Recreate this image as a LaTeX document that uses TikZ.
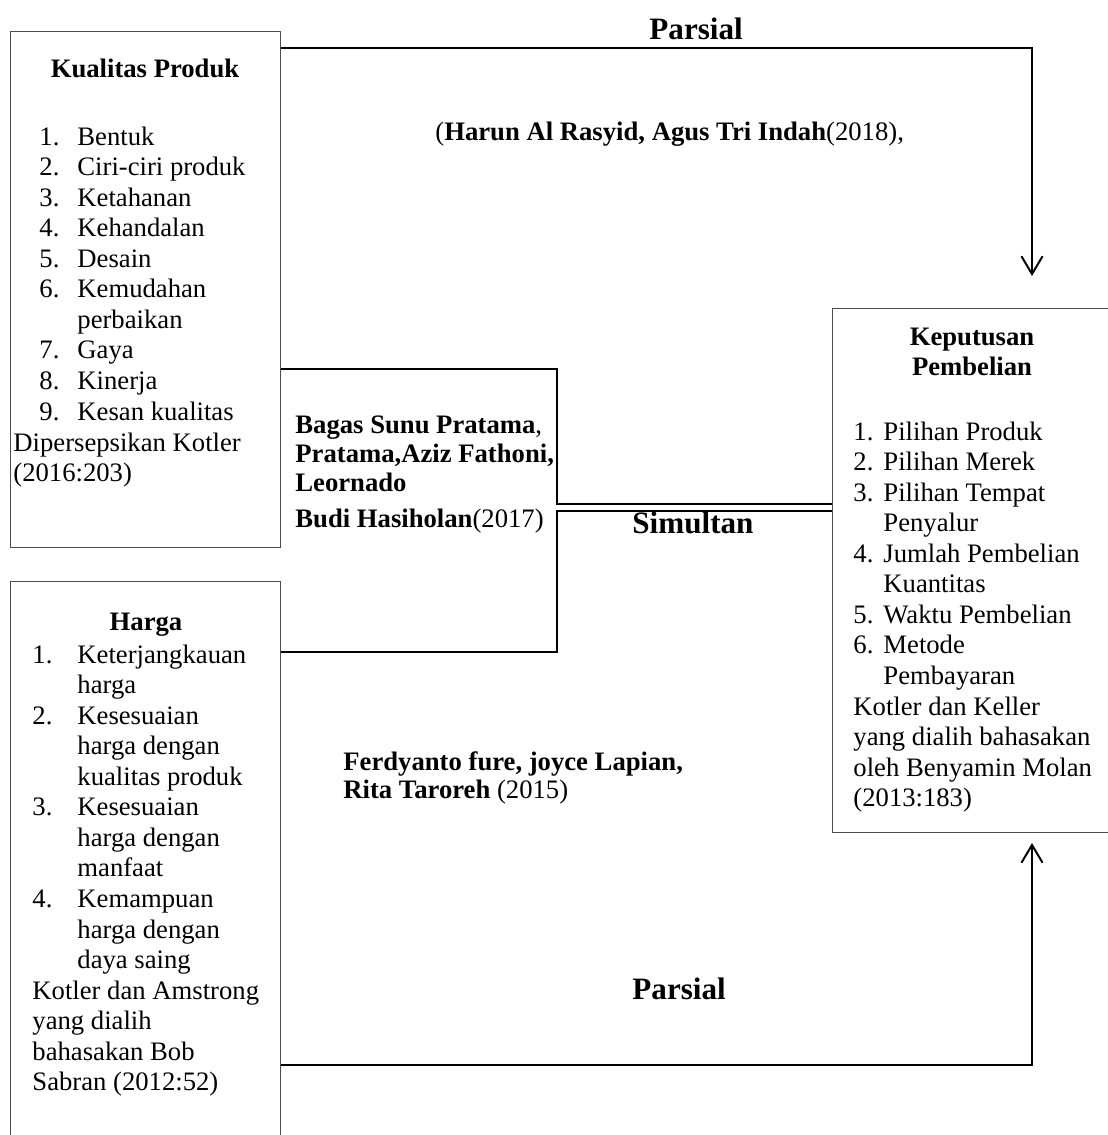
\documentclass[tikz,border=0pt]{standalone}
\usepackage{fontspec}
\setmainfont{Liberation Serif}
\usetikzlibrary{arrows.meta}
\tikzset{
  box/.style={draw=black!70, line width=0.6pt, rectangle, inner sep=0pt, anchor=north west},
  conn/.style={draw=black, line width=0.9pt},
  arr/.style={-{Straight Barb[length=8pt,width=9.5pt]}},
  txt/.style={inner sep=0pt, anchor=base west, font=\fontsize{12}{13.75}\selectfont},
  ttl/.style={inner sep=0pt, anchor=base, font=\fontsize{12}{13.75}\selectfont\bfseries},
  big/.style={inner sep=0pt, anchor=base west, font=\fontsize{14}{16}\selectfont\bfseries},
}
\newcommand\numA[1]{\makebox[17.1pt][l]{#1}}
\newcommand\numB[1]{\makebox[20.25pt][l]{#1}}
\newcommand\numC[1]{\makebox[13.5pt][l]{#1}}
\begin{document}
\begin{tikzpicture}[x=0.45pt,y=-0.45pt]
\useasboundingbox (0,0) rectangle (1107,1135);
% boxes
\node[box, minimum width=121.5pt, minimum height=232.2pt] (kp) at (10,31) {};
\node[box, minimum width=121.5pt, minimum height=256pt] (hg) at (10,581) {};
\node[box, minimum width=126pt, minimum height=235.8pt] (kd) at (832,308) {};
% box 1 text
\node[ttl] (kpt) at (145,77) {Kualitas Produk};
\node[txt] (kpl) at (39,145) {\begin{tabular}[t]{@{}l@{}}
\numA{1.}Bentuk\\ \numA{2.}Ciri-ciri produk\\ \numA{3.}Ketahanan\\ \numA{4.}Kehandalan\\
\numA{5.}Desain\\ \numA{6.}Kemudahan\\ \numA{}perbaikan\\ \numA{7.}Gaya\\ \numA{8.}Kinerja\\
\numA{9.}Kesan kualitas\end{tabular}};
\node[txt] (kpr) at (13,451) {\begin{tabular}[t]{@{}l@{}}Dipersepsikan Kotler\\(2016:203)\end{tabular}};
% box 2 text
\node[ttl] (hgt) at (146,630) {Harga};
\node[txt] (hgl) at (32,663) {\begin{tabular}[t]{@{}l@{}}
\numB{1.}Keterjangkauan\\ \numB{}harga\\ \numB{2.}Kesesuaian\\ \numB{}harga dengan\\
\numB{}kualitas produk\\ \numB{3.}Kesesuaian\\ \numB{}harga dengan\\ \numB{}manfaat\\
\numB{4.}Kemampuan\\ \numB{}harga dengan\\ \numB{}daya saing\\
Kotler dan Amstrong\\ yang dialih\\ bahasakan Bob\\ Sabran (2012:52)\end{tabular}};
% box 3 text
\node[ttl] (kdt) at (972,345) {\begin{tabular}[t]{@{}c@{}}Keputusan\\Pembelian\end{tabular}};
\node[txt] (kdl) at (853,440) {\begin{tabular}[t]{@{}l@{}}
\numC{1.}Pilihan Produk\\ \numC{2.}Pilihan Merek\\ \numC{3.}Pilihan Tempat\\ \numC{}Penyalur\\
\numC{4.}Jumlah Pembelian\\ \numC{}Kuantitas\\ \numC{5.}Waktu Pembelian\\ \numC{6.}Metode\\
\numC{}Pembayaran\\ Kotler dan Keller\\ yang dialih bahasakan\\ oleh Benyamin Molan\\ (2013:183)\end{tabular}};
% labels
\node[big] (p1) at (649,39) {Parsial};
\node[big] (p2) at (632,999) {Parsial};
\node[big] (sim) at (632,533) {Simultan};
\node[txt] (r1) at (435,140) {(\textbf{Harun Al Rasyid, Agus Tri Indah}(2018),};
\node[txt, font=\fontsize{12}{13.05}\selectfont] (r2) at (295,433) {\begin{tabular}[t]{@{}l@{}}
\textbf{Bagas Sunu Pratama},\\ \textbf{Pratama,Aziz Fathoni,}\\ \textbf{Leornado}\\[3.2pt]
\textbf{Budi Hasiholan}(2017)\end{tabular}};
\node[txt, font=\fontsize{12}{12.6}\selectfont] (r3) at (343,770) {\begin{tabular}[t]{@{}l@{}}
\textbf{Ferdyanto fure, joyce Lapian,}\\ \textbf{Rita Taroreh} (2015)\end{tabular}};
% connector coordinates
\coordinate (tA) at (1032,48);
\coordinate (tTip) at (1032,276);
\coordinate (bA) at (1032,1065);
\coordinate (bTip) at (1032,843);
\coordinate (jA) at (557,369);
\coordinate (jB) at (557,504);
\coordinate (jC) at (557,511);
\coordinate (jD) at (557,652);
% connectors
\draw[conn, arr] (kp.east |- tA) -- (tA) -- (tTip);
\draw[conn, arr] (hg.east |- bA) -- (bA) -- (bTip);
\draw[conn] (kp.east |- jA) -- (jA) -- (jB) -- (kd.west |- jB);
\draw[conn] (kd.west |- jC) -- (jC) -- (jD) -- (hg.east |- jD);
\end{tikzpicture}
\end{document}
